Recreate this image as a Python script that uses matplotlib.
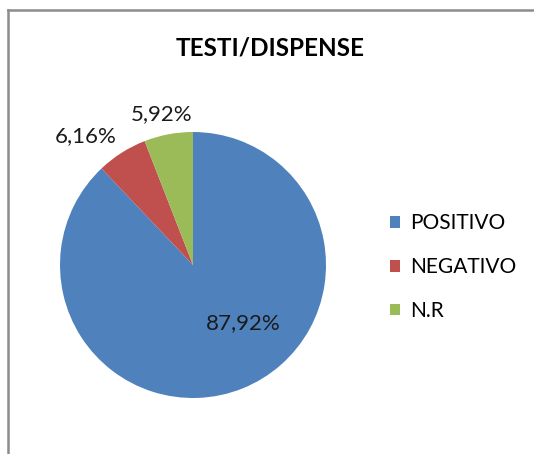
import matplotlib.pyplot as plt
from matplotlib.patches import Patch
from matplotlib.lines import Line2D

# data
categories = ["POSITIVO", "NEGATIVO", "N.R"]
shares = [87.92, 6.16, 5.92]
share_labels = ["87,92%", "6,16%", "5,92%"]
colors = ["#4F81BD", "#C0504D", "#9BBB59"]
title = "TESTI/DISPENSE"

plt.rcParams["font.family"] = ["Lato", "DejaVu Sans"]

W, H = 534, 454
fig = plt.figure(figsize=(W / 100, H / 100), dpi=100)

# pie axes, centre (193, 265) px, radius 133 px
cx, cy, r = 193, 265, 133
ax = fig.add_axes([(cx - r) / W, (H - cy - r) / H, 2 * r / W, 2 * r / H])
wedges, texts = ax.pie(
    shares,
    colors=colors,
    startangle=90,
    counterclock=False,
    labels=share_labels,
    textprops={"fontsize": 16, "color": "#1a1a1a"},
)
ax.set_xlim(-1, 1)
ax.set_ylim(-1, 1)
ax.set_aspect("equal")

# label spots (data units of the pie)
label_pos = [(0.376, -0.436), (-0.805, 0.97), (-0.233, 1.135)]
for t, (x, y) in zip(texts, label_pos):
    t.set_position((x, y))
    t.set_ha("center")
    t.set_va("center")

fig.text(270 / W, 1 - 48 / H, title, ha="center", va="center",
         fontsize=17.5, fontweight="bold", color="#000000")

handles = [Patch(facecolor=c, edgecolor="none") for c in colors]
fig.legend(
    handles, categories,
    loc="upper left",
    bbox_to_anchor=(390 / W, 1 - 213 / H),
    frameon=False,
    fontsize=15,
    borderpad=0,
    borderaxespad=0,
    handlelength=0.5,
    handleheight=0.5,
    handletextpad=0.45,
    labelspacing=1.15,
)

# chart border (top and left visible)
border = "#8c8c8c"
fig.add_artist(Line2D([8 / W, 1], [1 - 10 / H, 1 - 10 / H], color=border, lw=1.8))
fig.add_artist(Line2D([8 / W, 8 / W], [0, 1 - 10 / H], color=border, lw=1.8))

fig.savefig("out.png", dpi=100)
